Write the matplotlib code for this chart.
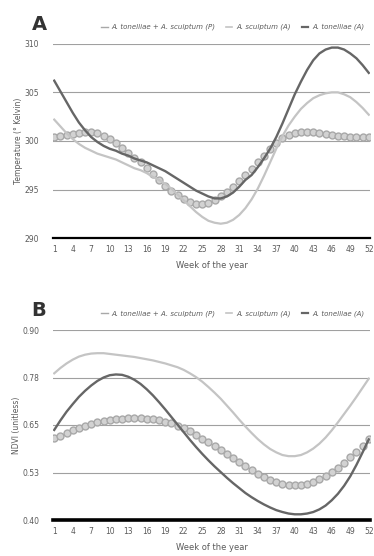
import matplotlib
matplotlib.use("Agg")
import matplotlib.pyplot as plt
from matplotlib.lines import Line2D

#########################################################
# datos (lectura aproximada de la figura)
weeks = list(range(1, 53))
xtick_weeks = list(range(1, 53, 3))

labels = ["A. tonelliae + A. sculptum (P)", "A. sculptum (A)", "A. tonelliae (A)"]

temp_ticks = [290, 295, 300, 305, 310]
temp_tick_labels = ["290", "295", "300", "305", "310"]

temp_both = [300.4, 300.5, 300.6, 300.7, 300.8, 300.9, 300.9, 300.8,
             300.5, 300.2, 299.8, 299.3, 298.8, 298.3, 297.8, 297.2,
             296.6, 296.0, 295.4, 294.9, 294.4, 294.0, 293.7, 293.5,
             293.5, 293.6, 293.9, 294.3, 294.8, 295.3, 295.9, 296.5,
             297.1, 297.8, 298.5, 299.2, 299.8, 300.3, 300.6, 300.8,
             300.9, 300.9, 300.9, 300.8, 300.7, 300.6, 300.5, 300.5,
             300.4, 300.4, 300.4, 300.4]

temp_sculptum = [302.2, 301.5, 300.8, 300.2, 299.7, 299.3, 299.0, 298.7,
                 298.5, 298.3, 298.1, 297.8, 297.5, 297.2, 297.0, 296.7,
                 296.3, 296.0, 295.6, 295.1, 294.5, 293.9, 293.3, 292.7,
                 292.2, 291.8, 291.6, 291.5, 291.6, 291.9, 292.4, 293.1,
                 294.0, 295.1, 296.4, 297.8, 299.2, 300.5, 301.6, 302.5,
                 303.3, 303.9, 304.4, 304.7, 304.9, 305.0, 305.0, 304.8,
                 304.5, 304.0, 303.4, 302.7]

temp_tonelliae = [306.2, 305.1, 304.0, 302.9, 301.9, 301.1, 300.4, 299.9,
                  299.5, 299.2, 299.0, 298.7, 298.5, 298.2, 298.0, 297.8,
                  297.5, 297.2, 296.9, 296.5, 296.1, 295.7, 295.3, 294.9,
                  294.6, 294.3, 294.1, 294.1, 294.3, 294.7, 295.3, 296.0,
                  296.5, 297.3, 298.2, 299.2, 300.4, 301.8, 303.3, 304.8,
                  306.1, 307.3, 308.3, 309.0, 309.4, 309.6, 309.6, 309.4,
                  309.0, 308.5, 307.8, 307.0]

ndvi_ticks = [0.40, 0.525, 0.65, 0.775, 0.90]
ndvi_tick_labels = ["0.40", "0.53", "0.65", "0.78", "0.90"]

ndvi_both = [0.615, 0.622, 0.630, 0.637, 0.643, 0.648, 0.653, 0.657,
             0.660, 0.663, 0.665, 0.667, 0.668, 0.668, 0.668, 0.667,
             0.665, 0.663, 0.659, 0.654, 0.648, 0.641, 0.633, 0.624,
             0.614, 0.604, 0.594, 0.584, 0.574, 0.563, 0.552, 0.541,
             0.531, 0.521, 0.512, 0.505, 0.499, 0.495, 0.492, 0.491,
             0.492, 0.495, 0.500, 0.507, 0.516, 0.526, 0.538, 0.551,
             0.565, 0.580, 0.596, 0.612]

ndvi_sculptum = [0.786, 0.800, 0.812, 0.822, 0.830, 0.835, 0.838, 0.839,
                 0.839, 0.837, 0.835, 0.833, 0.831, 0.829, 0.826, 0.823,
                 0.820, 0.816, 0.812, 0.807, 0.802, 0.795, 0.786, 0.776,
                 0.764, 0.750, 0.735, 0.719, 0.701, 0.683, 0.664, 0.646,
                 0.629, 0.613, 0.599, 0.587, 0.578, 0.571, 0.568, 0.568,
                 0.571, 0.578, 0.588, 0.601, 0.617, 0.636, 0.657, 0.679,
                 0.701, 0.724, 0.748, 0.772]

ndvi_tonelliae = [0.637, 0.662, 0.685, 0.705, 0.724, 0.740, 0.754, 0.766,
                  0.775, 0.781, 0.783, 0.782, 0.777, 0.769, 0.758, 0.744,
                  0.728, 0.710, 0.691, 0.671, 0.651, 0.631, 0.611, 0.592,
                  0.574, 0.557, 0.541, 0.526, 0.511, 0.497, 0.484, 0.471,
                  0.460, 0.450, 0.441, 0.433, 0.426, 0.421, 0.417, 0.415,
                  0.415, 0.417, 0.421, 0.428, 0.438, 0.452, 0.469, 0.490,
                  0.515, 0.545, 0.578, 0.612]

#########################################################
c_dark = "#666666"
c_light = "#c4c4c4"
c_dot_face = "#d2d2d2"
c_dot_edge = "#a8a8a8"
c_text = "#5a5a5a"


def panel(ax, both, sculptum, tonelliae, ticks, tick_labels, ylabel, letter, bottom_lw):
    ax.plot(weeks, both, linestyle="none", marker="o", markersize=5.0,
            markerfacecolor=c_dot_face, markeredgecolor=c_dot_edge,
            markeredgewidth=1.0, zorder=2)
    ax.plot(weeks, sculptum, color=c_light, lw=1.6, zorder=3)
    ax.plot(weeks, tonelliae, color=c_dark, lw=1.7, zorder=4)

    ax.set_xlim(0.8, 52.2)
    ax.set_ylim(ticks[0], ticks[-1])
    ax.set_yticks(ticks)
    ax.set_yticklabels(tick_labels)
    ax.set_xticks(xtick_weeks)
    ax.tick_params(length=0, labelsize=5.5, colors=c_text)
    ax.tick_params(axis="y", pad=10)
    ax.tick_params(axis="x", pad=5)

    for s in ["top", "right", "left"]:
        ax.spines[s].set_visible(False)
    ax.spines["bottom"].set_color("black")
    ax.spines["bottom"].set_linewidth(bottom_lw)

    ax.yaxis.grid(True, color="#a0a0a0", lw=0.8)
    ax.set_axisbelow(True)

    ax.set_xlabel("Week of the year", fontsize=6, color=c_text, labelpad=5)
    ax.set_ylabel(ylabel, fontsize=5.5, color=c_text, labelpad=1)

    ax.text(-0.068, 1.10, letter, transform=ax.transAxes, fontsize=14,
            fontweight="bold", color="#333333", ha="left", va="center")

    handles = [Line2D([], [], color=c_dot_edge, lw=1.0),
               Line2D([], [], color=c_light, lw=1.2),
               Line2D([], [], color=c_dark, lw=1.6)]
    ax.legend(handles, labels, ncol=3, loc="center right",
              bbox_to_anchor=(0.99, 1.085), frameon=False, handlelength=0.9,
              handletextpad=0.6, columnspacing=1.5, borderaxespad=0,
              prop={"size": 5.0, "style": "italic"}, labelcolor=c_text)


fig = plt.figure(figsize=(3.74, 5.56), dpi=100)
ax_a = fig.add_axes([53 / 374, 1 - 238.3 / 556, 317 / 374, 194.6 / 556])
ax_b = fig.add_axes([53 / 374, 1 - 520 / 556, 317 / 374, 190 / 556])

panel(ax_a, temp_both, temp_sculptum, temp_tonelliae, temp_ticks,
      temp_tick_labels, "Temperature (° Kelvin)", "A", 1.6)
panel(ax_b, ndvi_both, ndvi_sculptum, ndvi_tonelliae, ndvi_ticks,
      ndvi_tick_labels, "NDVI (unitless)", "B", 2.6)

fig.savefig("out.png", dpi=100)
plt.close(fig)
